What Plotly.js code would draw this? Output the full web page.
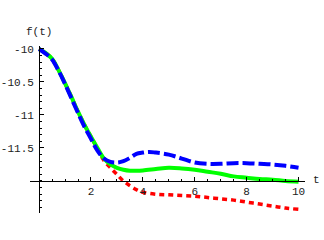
<!DOCTYPE html>
<html><head><meta charset="utf-8">
<script src="https://cdn.plot.ly/plotly-3.0.1.min.js"></script>
<style>html,body{margin:0;padding:0;background:#fff}#chart{width:324px;height:240px}</style>
</head><body><div id="chart"></div>
<script>
var tBlue  = [0,0.25,0.5,0.75,1,1.25,1.5,1.75,2,2.25,2.5,2.75,3,3.25,3.5,3.75,4,4.25,4.5,5,5.5,6,6.5,7,7.5,8,8.5,9,9.5,10];
var fBlue  = [-10,-10.07,-10.16,-10.33,-10.53,-10.75,-10.97,-11.18,-11.36,-11.54,-11.66,-11.71,-11.72,-11.70,-11.65,-11.59,-11.57,-11.56,-11.57,-11.60,-11.66,-11.72,-11.74,-11.74,-11.73,-11.73,-11.74,-11.75,-11.77,-11.80];
var tGreen = [0,0.25,0.5,0.75,1,1.25,1.5,1.75,2,2.25,2.5,2.75,3,3.25,3.5,3.75,4,4.5,5,5.5,6,6.5,7,7.5,8,8.5,9,9.5,10];
var fGreen = [-10,-10.06,-10.15,-10.32,-10.52,-10.73,-10.95,-11.15,-11.33,-11.50,-11.66,-11.75,-11.80,-11.83,-11.845,-11.845,-11.84,-11.82,-11.80,-11.81,-11.83,-11.86,-11.89,-11.93,-11.95,-11.97,-11.98,-12.0,-12.01];
var tRed   = [0,0.25,0.5,0.75,1,1.25,1.5,1.75,2,2.25,2.5,2.75,3,3.25,3.5,3.75,4,4.5,5,5.5,6,6.5,7,7.5,8,8.5,9,9.5,10];
var fRed   = [-10,-10.06,-10.15,-10.32,-10.52,-10.73,-10.95,-11.15,-11.33,-11.51,-11.69,-11.80,-11.90,-12.0,-12.07,-12.13,-12.17,-12.20,-12.21,-12.22,-12.23,-12.25,-12.27,-12.29,-12.32,-12.35,-12.38,-12.41,-12.43];
var xTicks = [2,4,6,8,10];
var yTicks = [-10,-10.5,-11,-11.5];
var yTickText = ['-10','-10.5','-11','-11.5'];

var traces = [
  {x:tRed, y:fRed, mode:'lines', line:{color:'#ff0000', width:3.5, dash:'5px,4px', shape:'spline'}},
  {x:tGreen, y:fGreen, mode:'lines', line:{color:'#00ff00', width:4, shape:'spline'}},
  {x:tBlue, y:fBlue, mode:'lines', line:{color:'#0000ff', width:4, dash:'12px,4px', shape:'spline'}}
];
var xr = [-0.35, 10.25], yr = [-12.485, -9.955];
var fnt = {family:'Liberation Mono, DejaVu Sans Mono, monospace', size:11, color:'#222'};
var layout = {
  width:324, height:240, showlegend:false,
  paper_bgcolor:'#fff', plot_bgcolor:'#fff',
  margin:{l:30, r:19, t:46, b:27},
  xaxis:{range:xr, showgrid:false, zeroline:false, showline:true, linecolor:'#000', linewidth:1,
    anchor:'free', position:(-12 - yr[0])/(yr[1]-yr[0]),
    tickmode:'array', tickvals:xTicks, ticktext:xTicks.map(String),
    ticks:'inside', ticklen:4, tickcolor:'#000', tickfont:fnt,
    minor:{dtick:0.5, tick0:0, ticks:'inside', ticklen:2, tickcolor:'#000'}},
  yaxis:{range:yr, showgrid:false, zeroline:false, showline:true, linecolor:'#000', linewidth:1,
    anchor:'free', position:(0 - xr[0])/(xr[1]-xr[0]),
    tickmode:'array', tickvals:yTicks, ticktext:yTickText, ticklabelstandoff:3,
    ticks:'inside', ticklen:4, tickcolor:'#000', tickfont:fnt,
    minor:{dtick:0.1, tick0:-12, ticks:'inside', ticklen:2, tickcolor:'#000'}},
  annotations:[
    {text:'f(t)', xref:'paper', yref:'paper', x:(0 - xr[0])/(xr[1]-xr[0]), y:1, xanchor:'center', yanchor:'bottom', yshift:6, showarrow:false, font:fnt},
    {text:'t', xref:'paper', yref:'y', x:1, y:-12, xanchor:'left', yanchor:'middle', xshift:6, yshift:1, showarrow:false, font:fnt}
  ]
};
Plotly.newPlot('chart', traces, layout, {staticPlot:true, displayModeBar:false});
</script></body></html>
